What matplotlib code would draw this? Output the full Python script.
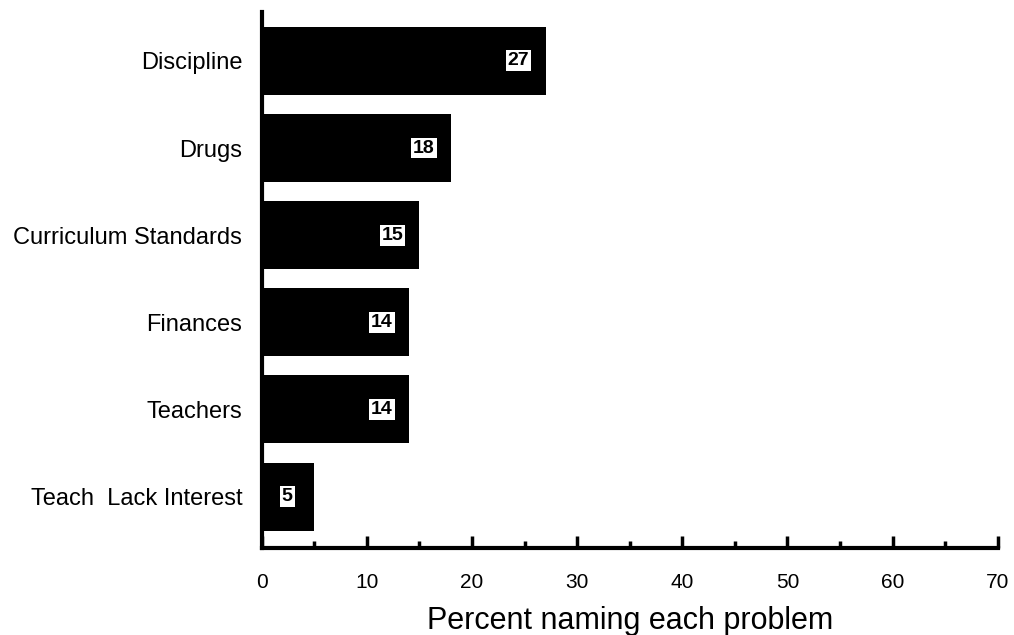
import numpy as np
from matplotlib import pyplot as plt
from matplotlib.ticker import MultipleLocator

plt.rcParams['font.family'] = ['Liberation Sans', 'DejaVu Sans']

# survey responses, top to bottom
problems = ['Discipline', 'Drugs', 'Curriculum Standards', 'Finances',
            'Teachers', 'Teach  Lack Interest']
percent = [27, 18, 15, 14, 14, 5]

fig = plt.figure(figsize=(10.14, 6.35), dpi=100)
ax = fig.add_axes([0.258, 0.137, 0.726, 0.844])

ypos = np.arange(len(problems))[::-1]
ax.barh(ypos, percent, height=0.78, color='black')

for y, v in zip(ypos, percent):
    ax.annotate(str(v), xy=(v, y), xytext=(-27, 0), textcoords='offset pixels',
                ha='center', va='center', fontsize=14, fontweight='bold', color='black',
                bbox=dict(boxstyle='square,pad=0.1', fc='white', ec='none'))

ax.set_yticks(ypos)
ax.set_yticklabels(problems, fontsize=17)
ax.tick_params(axis='y', length=0, pad=14)

ax.set_xlim(0, 70)
ax.set_ylim(-0.59, 5.56)
ax.xaxis.set_major_locator(MultipleLocator(10))
ax.xaxis.set_minor_locator(MultipleLocator(5))
ax.tick_params(axis='x', which='major', direction='in', length=9, width=2.5, labelsize=15, pad=18)
ax.tick_params(axis='x', which='minor', direction='in', length=5, width=2.5)

for s in ['top', 'right']:
    ax.spines[s].set_visible(False)
for s in ['left', 'bottom']:
    ax.spines[s].set_linewidth(3)

ax.set_xlabel('Percent naming each problem', fontsize=22, labelpad=10)

fig.savefig('out.png', dpi=100)
